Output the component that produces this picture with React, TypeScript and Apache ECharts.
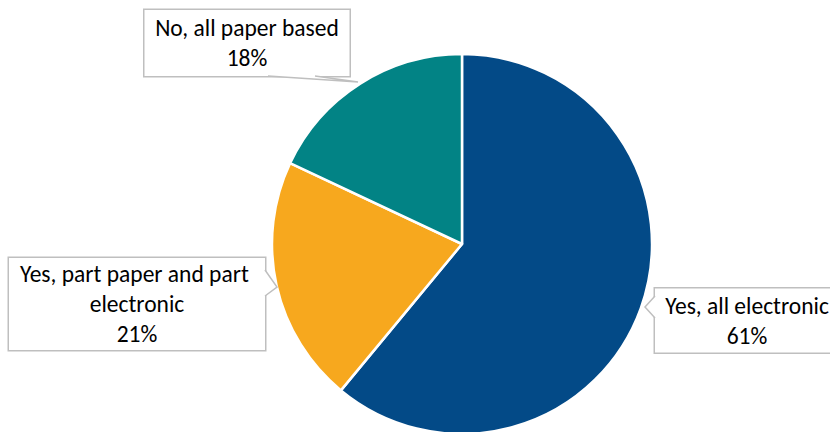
import React, { useEffect, useRef } from "react";
import * as echarts from "echarts";

const categories = ["Yes, all electronic", "Yes, part paper and part electronic", "No, all paper based"];
const values = [61, 21, 18];
const colors = ["#034A87", "#F7A81E", "#028385"];

// callout box geometry (label centre, content width, padding)
const boxes = [
  { x: 747, y: 320.5, w: 184, pad: [2, 0] },
  { x: 137, y: 304, w: 256, pad: [1, 0] },
  { x: 247, y: 43, w: 205, pad: [3, 0] },
];

const FONT = "Carlito, Calibri, Lato, 'Noto Sans', sans-serif";

export default function App() {
  const ref = useRef<HTMLDivElement>(null);
  useEffect(() => {
    if (!ref.current) return;
    const chart = echarts.init(ref.current, null, { renderer: "svg" });
    const stroke = "#bfbfbf";
    const notch = (tip: number[], a: number[], b: number[]) => [
      { type: "polygon", z: 20, shape: { points: [a, tip, b] }, style: { fill: "#fff", stroke: "none" } },
      { type: "polyline", z: 21, shape: { points: [a, tip, b] }, style: { stroke, lineWidth: 1.5, fill: "none" } },
    ];
    chart.setOption({
      animation: false,
      backgroundColor: "#fff",
      series: [
        {
          type: "pie",
          center: [462, 244],
          radius: 190,
          startAngle: 90,
          clockwise: true,
          percentPrecision: 0,
          itemStyle: { borderColor: "#fff", borderWidth: 2.5 },
          labelLine: { show: false },
          label: {
            show: true,
            position: "outside",
            formatter: "{b}\n{d}%",
            fontFamily: FONT,
            fontSize: 23.5,
            lineHeight: 30,
            color: "#000",
            align: "center",
            backgroundColor: "#fff",
            borderColor: stroke,
            borderWidth: 1.5,
            overflow: "break",
          },
          labelLayout: (p: any) => {
            const b = boxes[p.dataIndex];
            return { x: b.x, y: b.y, align: "center", verticalAlign: "middle" };
          },
          data: categories.map((name, i) => ({
            name,
            value: values[i],
            itemStyle: { color: colors[i] },
            label: { width: boxes[i].w, padding: boxes[i].pad },
          })),
        },
      ],
      graphic: [
        ...notch([358, 82], [268, 76], [315, 76]),
        ...notch([277, 287], [265, 270], [265, 296]),
        ...notch([645, 307], [655, 296], [655, 318]),
      ],
    });
    return () => chart.dispose();
  }, []);
  return <div ref={ref} style={{ position: "absolute", left: 0, top: 0, width: 830, height: 432 }} />;
}
